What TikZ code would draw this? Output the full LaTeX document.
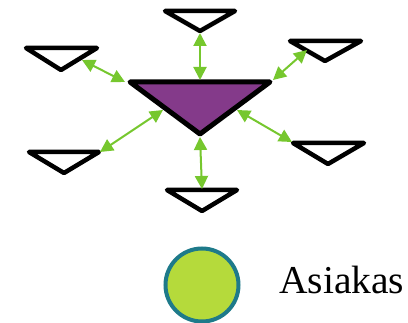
\documentclass[tikz,border=0pt]{standalone}
\usepackage{fontspec}
\setmainfont{Liberation Serif}
\usetikzlibrary{arrows.meta}
\definecolor{tripurple}{HTML}{843A8A}
\definecolor{arrgreen}{HTML}{76C72E}
\definecolor{circfill}{HTML}{B5DA3B}
\definecolor{circedge}{HTML}{1E7A8A}
\tikzset{
  smalltri/.style={draw=black,line width=4.5pt,line join=round,fill=white},
  bigtri/.style={draw=black,line width=5pt,line join=round,fill=tripurple},
  link/.style={draw=arrgreen,line width=2pt,{Triangle[length=13pt,width=13pt]}-{Triangle[length=13pt,width=13pt]}, shorten <=0pt, shorten >=0pt},
}
\begin{document}
\begin{tikzpicture}[x=1pt,y=-1pt]
\useasboundingbox (0,0) rectangle (408,323);
% central triangle
\draw[bigtri] (130,82) -- (270,82) -- (200,134) -- cycle;
% small triangles
\draw[smalltri] (165,11) -- (235,11) -- (200,31) -- cycle;
\draw[smalltri] (26,48) -- (97,48) -- (61,70) -- cycle;
\draw[smalltri] (290,41) -- (361,41) -- (325,61) -- cycle;
\draw[smalltri] (29,152) -- (99,152) -- (64,173) -- cycle;
\draw[smalltri] (293,143) -- (364,143) -- (328,164) -- cycle;
\draw[smalltri] (167,190) -- (237,190) -- (202,211) -- cycle;
% connector end points
\coordinate (t1) at (200,33);  \coordinate (c1) at (200,80);
\coordinate (t2) at (82,60);   \coordinate (c2) at (125,82);
\coordinate (t3) at (307,50);  \coordinate (c3) at (273,80);
\coordinate (t4) at (100,152); \coordinate (c4) at (163,110);
\coordinate (t5) at (292,142); \coordinate (c5) at (237,110);
\coordinate (t6) at (202,189); \coordinate (c6) at (200,137);
\foreach \i in {1,...,6} {\draw[link] (t\i) -- (c\i);}
% legend
\node[circle,draw=circedge,line width=4pt,fill=circfill,minimum size=73pt,inner sep=0pt] (cust) at (202,285) {};
\node[anchor=base west,inner sep=0pt,font=\fontsize{39.5}{42}\selectfont] (lbl) at (279,294) {Asiakas};
\end{tikzpicture}
\end{document}
